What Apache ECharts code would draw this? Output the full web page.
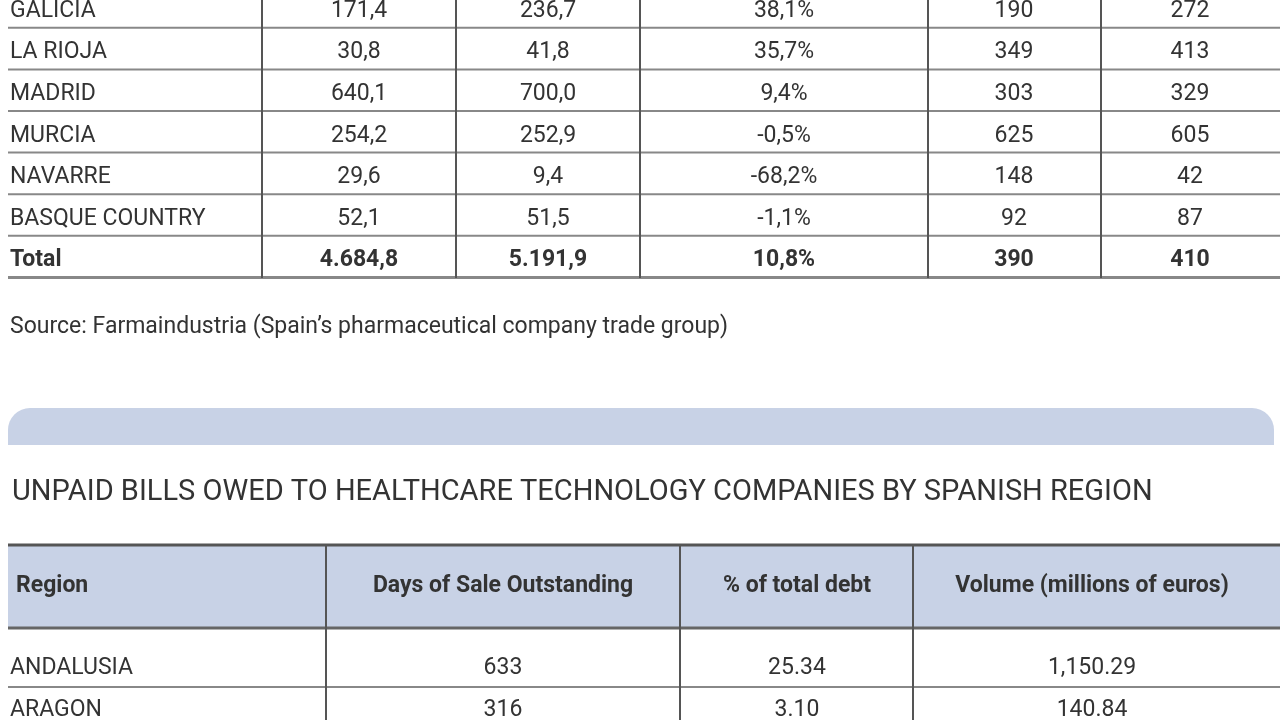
<!DOCTYPE html>
<html lang="en">
<head>
<meta charset="UTF-8">
<title>Spanish regions</title>
<style>
  html,body{margin:0;padding:0;background:#fff;}
  #main{width:1280px;height:720px;}
</style>
<script src="https://cdn.jsdelivr.net/npm/echarts@6/dist/echarts.min.js"></script>
</head>
<body>
<div id="main"></div>
<script>
// upper table (continued from above the crop)
let topRegions=['GALICIA','LA RIOJA','MADRID','MURCIA','NAVARRE','BASQUE COUNTRY','Total'];
let topCol1=['171,4','30,8','640,1','254,2','29,6','52,1','4.684,8'];
let topCol2=['236,7','41,8','700,0','252,9','9,4','51,5','5.191,9'];
let topCol3=['38,1%','35,7%','9,4%','-0,5%','-68,2%','-1,1%','10,8%'];
let topCol4=['190','349','303','625','148','92','390'];
let topCol5=['272','413','329','605','42','87','410'];
let sourceText='Source: Farmaindustria (Spain\u2019s pharmaceutical company trade group)';

// lower table
let title2='UNPAID BILLS OWED TO HEALTHCARE TECHNOLOGY COMPANIES BY SPANISH REGION';
let headers=['Region','Days of Sale Outstanding','% of total debt','Volume (millions of euros)'];
let regions=['ANDALUSIA','ARAGON'];
let days=['633','316'];
let debtShare=['25.34','3.10'];
let volume=['1,150.29','140.84'];

let chart=echarts.init(document.getElementById('main'));
let font='Roboto,"Noto Sans",sans-serif';
let ink='#333';
let g=[];

function txt(x,y,s,size,align,weight){
    g.push({type:'text',x:x,y:y,style:{text:s,fill:ink,font:(weight||'normal')+' '+size+'px '+font,
        align:align||'left',verticalAlign:'middle'}});
}
function line(x1,y1,x2,y2,w,c){
    g.push({type:'line',shape:{x1:x1,y1:y1,x2:x2,y2:y2},style:{stroke:c||'#777',lineWidth:w||2}});
}

// upper table
let rowH=41.6, y0=11;
let topCenters=[359,548,784,1014,1190];
let topCols=[topCol1,topCol2,topCol3,topCol4,topCol5];
topRegions.forEach((r,i)=>{
    let y=y0+i*rowH;
    let bold=(r==='Total')?'bold':'normal';
    txt(10,y,r,23,'left',bold);
    topCols.forEach((col,j)=>txt(topCenters[j],y,col[i],23,'center',bold));
    line(8,y+rowH/2-4,1280,y+rowH/2-4,i===topRegions.length-1?3:2,'#888');
});
[262,456,640,928,1101].forEach(x=>line(x,0,x,278,2,'#555'));

txt(10,327,sourceText,23);

// blue band
g.push({type:'rect',shape:{x:8,y:408,width:1266,height:37,r:[22,22,0,0]},style:{fill:'#c8d2e6'}});

txt(12,493,title2,29);

// lower table header
g.push({type:'rect',shape:{x:8,y:545,width:1272,height:83},style:{fill:'#c8d2e6'}});
line(8,545,1280,545,3,'#555');
line(8,628,1280,628,3,'#666');
let lowCenters=[503,797,1092];
txt(16,586,headers[0],23,'left','bold');
headers.slice(1).forEach((h,j)=>txt(lowCenters[j],586,h,23,'center','bold'));
let lowCols=[days,debtShare,volume];
regions.forEach((r,i)=>{
    let y=668+i*42;
    txt(10,y,r,23);
    lowCols.forEach((col,j)=>txt(lowCenters[j],y,col[i],23,'center'));
    line(8,y+19,1280,y+19,2,'#888');
});
[326,680,913].forEach(x=>line(x,545,x,720,2,'#555'));

chart.setOption({animation:false,graphic:{elements:g}});
</script>
</body>
</html>
